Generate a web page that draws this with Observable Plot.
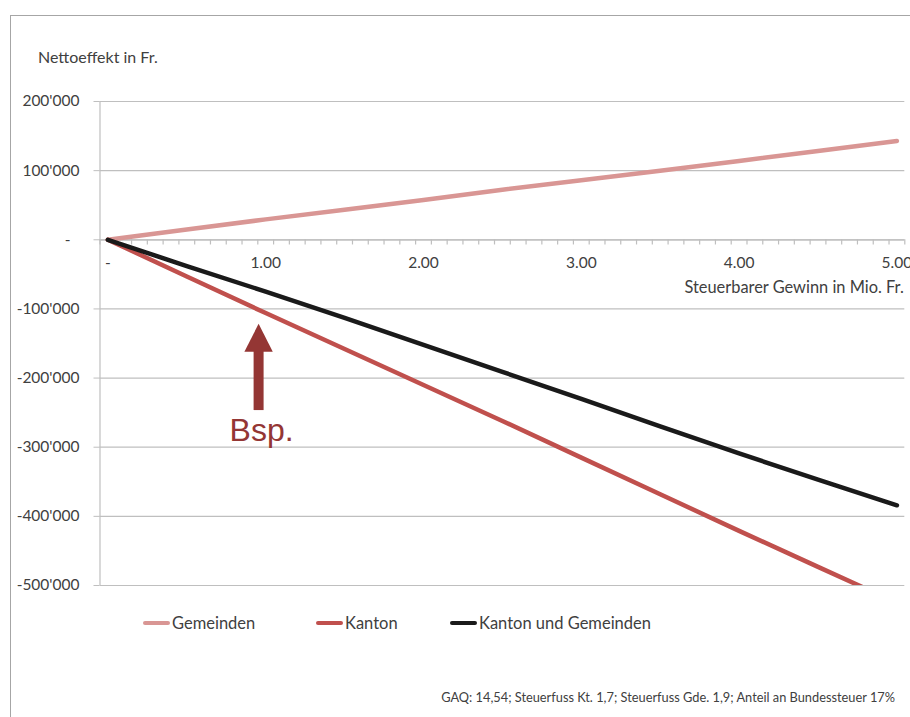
<!DOCTYPE html>
<html>
<head>
<meta charset="utf-8">
<script src="https://cdn.jsdelivr.net/npm/d3@7"></script>
<script src="https://cdn.jsdelivr.net/npm/@observablehq/plot@0.6"></script>
<style>
  html, body { margin: 0; padding: 0; background: #fff; overflow: hidden; }
  #chart { position: relative; width: 910px; height: 717px; font-family: Lato, "Open Sans", sans-serif; color: #404040; }
  #frame { position: absolute; left: 10px; top: 15px; width: 1000px; height: 800px; border: 1.5px solid #a6a6a6; box-sizing: border-box; }
  #title { position: absolute; left: 38px; top: 47px; font-size: 16px; line-height: 20px; }
  #plot { position: absolute; left: 0; top: 80px; }
  .item { position: absolute; top: 613px; display: flex; align-items: center; font-size: 16.5px; line-height: 20px; }
  .swatch { width: 27px; height: 4.5px; border-radius: 2.5px; margin-right: 2px; }
  #caption { position: absolute; right: 15px; top: 689px; font-size: 12.8px; line-height: 16px; }
</style>
</head>
<body>
<div id="chart">
  <div id="frame"></div>
  <div id="title"></div>
  <div id="plot"></div>
  <div id="legend"></div>
  <div id="caption"></div>
</div>
<script>
// Steuerbarer Gewinn (Mio. Fr.) and the net effect in Fr. for each level
const gewinn = [0, 0.5, 1.0, 1.5, 2.0, 2.5, 3.0, 3.5, 4.0, 4.5, 5.0];
const gemeinden = [0, 15000, 29500, 43500, 57500, 72500, 86000, 100000, 114000, 128500, 143000];
const kanton = [0, -53000, -106000, -158000, -210000, -262000, -315000, -368000, -421000, -473000, -525000];
const kantonUndGemeinden = [0, -38000, -75000, -113000, -152000, -191000, -230000, -270000, -309000, -347000, -384000];

const seriesNames = ["Gemeinden", "Kanton", "Kanton und Gemeinden"];
const seriesColors = ["#d99694", "#c0504d", "#1a1a1a"];

const yTicks = [200000, 100000, 0, -100000, -200000, -300000, -400000, -500000];
const xTickLabels = [0, 1, 2, 3, 4, 5];
// category boundaries of the 0.1-step x axis (51 categories, 0.00 … 5.00)
const xBoundaries = d3.range(52).map(i => +(i * 0.1 - 0.05).toFixed(2));

const titleText = "Nettoeffekt in Fr.";
const xTitle = "Steuerbarer Gewinn in Mio. Fr.";
const captionText = "GAQ: 14,54; Steuerfuss Kt. 1,7; Steuerfuss Gde. 1,9; Anteil an Bundessteuer 17%";

// "Bsp." annotation: arrow pointing at the example point
const bsp = [{x: 0.955, tip: -121500, shaftTop: -159000, tail: -247000, label: -276000, text: "Bsp."}];
const bspColor = "#943634";

const grid = "#bfbfbf";
const ink = "#404040";

const fmtY = d => d === 0 ? "-\u2007" : (d < 0 ? "-" : "") + d3.format(",")(Math.abs(d)).replace(/,/g, "'");
const fmtX = d => d === 0 ? "-" : d.toFixed(2);

const arrowHead = {
  draw(ctx) {
    ctx.moveTo(0, 0);
    ctx.lineTo(14.2, 28);
    ctx.lineTo(-14.2, 28);
    ctx.closePath();
  }
};

const lineOpts = (values, i) => Plot.lineY(values, {
  x: gewinn, stroke: seriesColors[i], strokeWidth: 4.5,
  strokeLinecap: "round", strokeLinejoin: "round", clip: true
});

const chart = Plot.plot({
  width: 910,
  height: 530,
  marginTop: 21,
  marginBottom: 25,
  marginLeft: 99.5,
  marginRight: 5.7,
  x: {domain: [-0.05, 5.05], axis: null},
  y: {domain: [-500000, 200000], axis: null},
  style: {fontFamily: "Lato, 'Open Sans', sans-serif", fontSize: "15.5px", color: ink, background: "transparent", overflow: "visible"},
  marks: [
    Plot.gridY(yTicks, {stroke: grid, strokeOpacity: 1, strokeWidth: 1.2}),
    Plot.ruleX([-0.05], {stroke: grid, strokeWidth: 1.2}),
    Plot.axisY(yTicks, {tickSize: 6, tickPadding: 14.5, tickFormat: fmtY, stroke: grid, fill: ink, fontSize: 15.5, label: null}),
    Plot.ruleY([0], {stroke: grid, strokeWidth: 1.2}),
    Plot.ruleX(xBoundaries, {x: d => d, y1: 0, y2: -7500, stroke: grid, strokeWidth: 1.2}),
    Plot.text(xTickLabels, {x: d => d, y: 0, dy: 23, text: fmtX, fontSize: 15.5, fill: ink}),
    Plot.text([xTitle], {x: 5.05, y: 0, dy: 47.5, dx: -1, text: d => d, textAnchor: "end", fontSize: 16.4, fill: ink}),
    lineOpts(gemeinden, 0),
    lineOpts(kanton, 1),
    lineOpts(kantonUndGemeinden, 2),
    Plot.ruleX(bsp, {x: "x", y1: "tail", y2: "shaftTop", stroke: bspColor, strokeWidth: 10}),
    Plot.dot(bsp, {x: "x", y: "tip", r: 1, symbol: arrowHead, fill: bspColor, stroke: "none"}),
    Plot.text(bsp, {x: "x", y: "label", dx: 3, text: "text", fontSize: 32, fontFamily: "'Liberation Sans', Arial, sans-serif", fill: bspColor})
  ]
});
document.getElementById("plot").append(chart);

document.getElementById("title").textContent = titleText;
document.getElementById("caption").textContent = captionText;

const legendLeft = [143, 316, 450];
const legend = document.getElementById("legend");
seriesNames.forEach((name, i) => {
  const item = document.createElement("div");
  item.className = "item";
  item.style.left = legendLeft[i] + "px";
  const sw = document.createElement("span");
  sw.className = "swatch";
  sw.style.background = seriesColors[i];
  const label = document.createElement("span");
  label.textContent = name;
  item.append(sw, label);
  legend.append(item);
});
</script>
</body>
</html>
